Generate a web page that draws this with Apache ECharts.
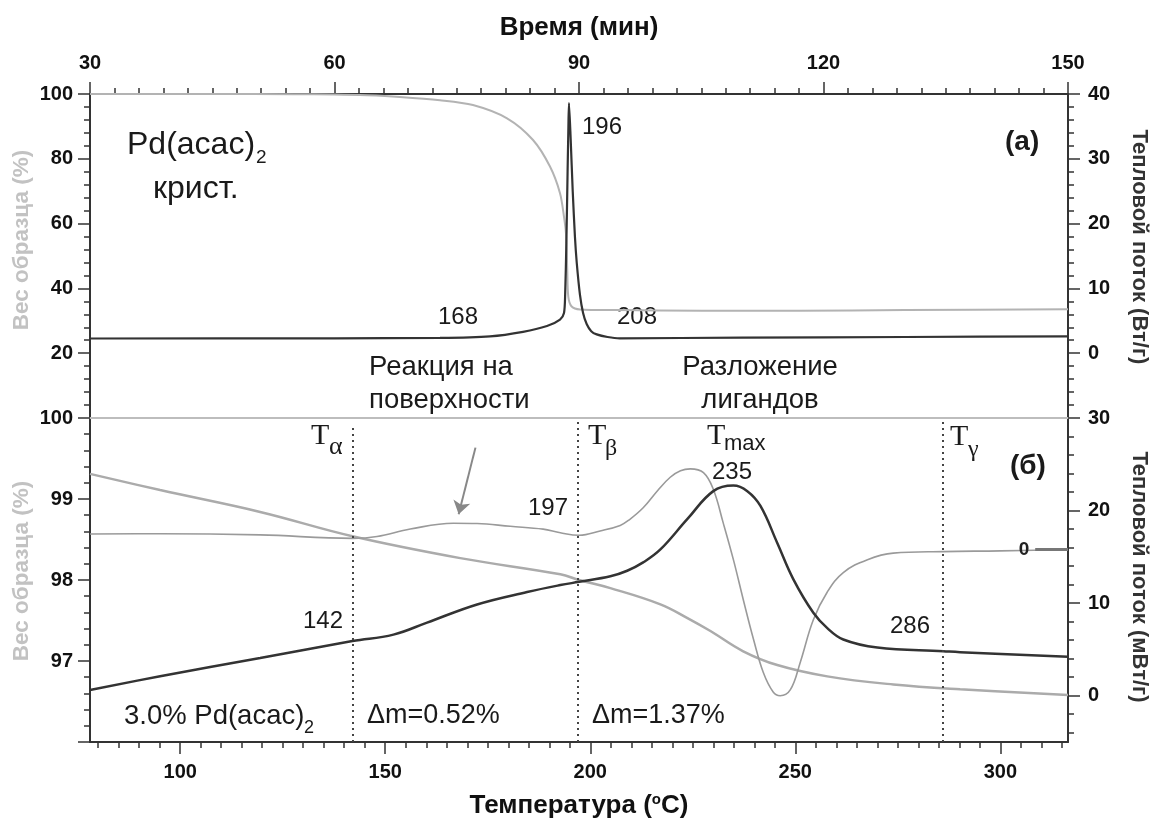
<!DOCTYPE html>
<html>
<head>
<meta charset="utf-8">
<title>Pd(acac)2 ТГ/ДСК</title>
<script src="https://cdn.jsdelivr.net/npm/echarts@6/dist/echarts.min.js"></script>
<style>
  html, body { margin: 0; padding: 0; background: #fff; }
  #main { width: 1154px; height: 821px; }
</style>
</head>
<body>
<div id="main"></div>
<script>
// (а) crystalline Pd(acac)2, plotted against time (min)
const timeWeightA = [30, 45, 55, 60, 64, 68, 72.94, 76.99, 81.17, 84.36, 86.44, 87.67, 88.16, 88.40, 88.56, 88.69, 89.10, 90.12, 94.66, 105, 117, 130, 150];
const weightA = [100, 100, 99.95, 99.85, 99.6, 99.1, 98.1, 96.6, 92.5, 85.8, 77.6, 69.4, 62.1, 57, 45.7, 37.4, 34.4, 33.5, 33.3, 33.1, 33.1, 33.3, 33.6];
const timeHeatA = [30, 60, 72.94, 79.08, 83.13, 86.07, 87.67, 88.16, 88.3, 88.45, 88.6, 88.7, 88.77, 88.98, 89.23, 89.5, 89.72, 90.12, 90.5, 90.94, 91.5, 92.17, 93.5, 95, 110, 130, 150];
const heatA = [2.27, 2.3, 2.36, 2.6, 3.3, 4.2, 5.2, 6.2, 9, 17, 28, 35, 38.6, 33, 25, 18, 14, 9, 6.2, 4.5, 3.4, 2.9, 2.5, 2.3, 2.4, 2.5, 2.6];

// (б) 3.0% Pd(acac)2, plotted against temperature (°C)
const tempWeightB = [78, 95.1, 119.5, 142, 168.3, 192.7, 197.3, 204.9, 217.1, 223.7, 229.3, 237.3, 245.6, 257.8, 273.9, 290.2, 316.5];
const weightB = [99.31, 99.11, 98.84, 98.54, 98.27, 98.07, 98.0, 97.9, 97.7, 97.53, 97.37, 97.12, 96.95, 96.81, 96.71, 96.65, 96.58];
const tempDtgB = [78, 95.1, 119.5, 142, 148, 156.1, 166.6, 172.4, 180.5, 188.5, 192.7, 197.3, 202.4, 207.3, 209.5, 212.9, 216.5, 219.5, 222, 224.4, 227.6, 230.0, 232.4, 234.9, 237.3, 239.8, 242.2, 244.6, 246.3, 248.8, 251.2, 254.4, 257.8, 261.7, 267.6, 273.9, 286.1, 300, 316.5];
const dtgB = [17.47, 17.5, 17.37, 17.0, 17.2, 18.0, 18.63, 18.6, 18.3, 18.0, 17.6, 17.33, 17.8, 18.4, 19.0, 20.3, 22.2, 23.6, 24.3, 24.5, 24.1, 22.3, 18.7, 14.7, 10.4, 6.1, 2.5, 0.4, 0, 0.65, 3.6, 8.2, 11.2, 13.3, 14.7, 15.4, 15.57, 15.65, 15.8];
const tempDscB = [78, 95.1, 119.5, 142, 152, 160.2, 172.4, 184.6, 192.7, 197.3, 204.9, 209, 212.9, 217.1, 223.7, 230, 234.9, 238.3, 241.5, 245.6, 249.5, 254.4, 257.8, 261.7, 270, 286.1, 290.2, 316.5];
const dscB = [0.62, 2.1, 4.08, 5.9, 6.6, 7.9, 9.86, 11.2, 11.95, 12.3, 12.9, 13.5, 14.4, 15.8, 19.1, 22.1, 22.7, 22.1, 20.5, 16.5, 12.6, 8.96, 7.3, 6.07, 5.2, 4.8, 4.7, 4.2];

// markers
const markTemps = [142, 197, 286];
const arrowFrom = [172, 26.8];
const arrowTo = [167.9, 19.6];
const zeroMark = [308.5, 316.5, 15.8];

// tick values
const tempLabels = [100, 150, 200, 250, 300];
const tempMinor = [80, 85, 90, 95, 105, 110, 115, 120, 125, 130, 135, 140, 145, 155, 160, 165, 170, 175, 180, 185, 190, 195, 205, 210, 215, 220, 225, 230, 235, 240, 245, 255, 260, 265, 270, 275, 280, 285, 290, 295, 305, 310, 315];
const heatBLabels = [0, 10, 20, 30];
const heatBMinor = [-4, -2, 2, 4, 6, 8, 12, 14, 16, 18, 22, 24, 26, 28];

function pairs(xs, ys) {
  return xs.map(function (x, i) { return [x, ys[i]]; });
}

const FONT = '"Liberation Sans", Arial, sans-serif';
const SERIF = '"Liberation Serif", "Times New Roman", serif';
const axisColor = '#333';
const tickLabel = { color: '#111', fontWeight: 'bold', fontSize: 20, fontFamily: FONT };
const nameStyle = { color: '#111', fontWeight: 'bold', fontSize: 26, fontFamily: FONT };

function label(x, y, text, size, opts) {
  opts = opts || {};
  return {
    type: 'text', x: x, y: y, silent: true,
    rotation: opts.rotation || 0,
    style: {
      text: text,
      fill: opts.color || '#1a1a1a',
      font: (opts.bold ? 'bold ' : '') + size + 'px ' + (opts.family || FONT),
      textAlign: opts.align || 'left',
      textVerticalAlign: 'middle'
    }
  };
}

const chart = echarts.init(document.getElementById('main'), null, { renderer: 'canvas' });

const option = {
  backgroundColor: '#fff',
  animation: false,
  grid: [
    { left: 90, right: 86, top: 94, height: 324, outerBoundsMode: 'none' },
    { left: 90, right: 86, top: 418, height: 324, outerBoundsMode: 'none' }
  ],
  xAxis: [
    {
      gridIndex: 0, type: 'value', position: 'top', min: 30, max: 150, interval: 30,
      axisLine: { onZero: false, lineStyle: { color: axisColor, width: 2 } },
      axisTick: { length: 12, lineStyle: { color: axisColor, width: 1.5 } },
      minorTick: { show: true, splitNumber: 10, length: 6, lineStyle: { color: axisColor, width: 1.5 } },
      axisLabel: Object.assign({ margin: 21 }, tickLabel),
      splitLine: { show: false },
      name: 'Время (мин)', nameLocation: 'middle', nameGap: 53,
      nameTextStyle: nameStyle
    },
    {
      gridIndex: 1, type: 'value', position: 'bottom', min: 78, max: 316.5,
      axisLine: { onZero: false, lineStyle: { color: axisColor, width: 2 } },
      axisTick: { customValues: tempLabels, length: 12, lineStyle: { color: axisColor, width: 1.5 } },
      axisLabel: Object.assign({ customValues: tempLabels, margin: 20 }, tickLabel),
      splitLine: { show: false },
      name: 'Температура ({sup|o}C)', nameLocation: 'middle', nameGap: 50,
      nameTextStyle: Object.assign({
        lineHeight: 28,
        rich: { sup: { fontSize: 15, fontWeight: 'bold', fontFamily: FONT, color: '#111', verticalAlign: 'top', lineHeight: 15 } }
      }, nameStyle)
    },
    {
      gridIndex: 1, type: 'value', position: 'bottom', min: 78, max: 316.5,
      axisLine: { show: false, onZero: false },
      axisTick: { customValues: tempMinor, length: 6, lineStyle: { color: axisColor, width: 1.5 } },
      axisLabel: { show: false },
      splitLine: { show: false }
    },
    {
      gridIndex: 1, type: 'value', position: 'top', min: 78, max: 316.5,
      axisLine: { onZero: false, lineStyle: { color: '#bdbdbd', width: 2 } },
      axisTick: { show: false }, axisLabel: { show: false }, splitLine: { show: false }
    }
  ],
  yAxis: [
    {
      gridIndex: 0, type: 'value', position: 'left', min: 0, max: 100, interval: 20,
      axisLine: { show: true, onZero: false, lineStyle: { color: axisColor, width: 2 } },
      axisTick: { show: true, length: 12, lineStyle: { color: axisColor, width: 1.5 } },
      minorTick: { show: true, splitNumber: 5, length: 6, lineStyle: { color: axisColor, width: 1.5 } },
      axisLabel: Object.assign({ margin: 17, showMinLabel: false }, tickLabel),
      splitLine: { show: false }
    },
    {
      gridIndex: 0, type: 'value', position: 'right', min: -10, max: 40, interval: 10,
      axisLine: { show: true, onZero: false, lineStyle: { color: axisColor, width: 2 } },
      axisTick: { show: true, length: 12, lineStyle: { color: axisColor, width: 1.5 } },
      minorTick: { show: true, splitNumber: 5, length: 6, lineStyle: { color: axisColor, width: 1.5 } },
      axisLabel: Object.assign({ margin: 20, showMinLabel: false }, tickLabel),
      splitLine: { show: false }
    },
    {
      gridIndex: 1, type: 'value', position: 'left', min: 96, max: 100, interval: 1,
      axisLine: { show: true, onZero: false, lineStyle: { color: axisColor, width: 2 } },
      axisTick: { show: true, length: 12, lineStyle: { color: axisColor, width: 1.5 } },
      minorTick: { show: true, splitNumber: 5, length: 6, lineStyle: { color: axisColor, width: 1.5 } },
      axisLabel: Object.assign({ margin: 17, showMinLabel: false }, tickLabel),
      splitLine: { show: false }
    },
    {
      gridIndex: 1, type: 'value', position: 'right', min: -5, max: 30,
      axisLine: { show: true, onZero: false, lineStyle: { color: axisColor, width: 2 } },
      axisTick: { show: true, customValues: heatBLabels, length: 12, lineStyle: { color: axisColor, width: 1.5 } },
      axisLabel: Object.assign({ customValues: heatBLabels, margin: 20 }, tickLabel),
      splitLine: { show: false }
    },
    {
      gridIndex: 1, type: 'value', position: 'right', min: -5, max: 30,
      axisLine: { show: false, onZero: false },
      axisTick: { show: true, customValues: heatBMinor, length: 6, lineStyle: { color: axisColor, width: 1.5 } },
      axisLabel: { show: false },
      splitLine: { show: false }
    }
  ],
  series: [
    {
      name: 'Вес (а)', type: 'line', xAxisIndex: 0, yAxisIndex: 0,
      data: pairs(timeWeightA, weightA), showSymbol: false, smooth: 0.3,
      lineStyle: { color: '#b3b3b3', width: 2 }, z: 2
    },
    {
      name: 'Тепловой поток (а)', type: 'line', xAxisIndex: 0, yAxisIndex: 1,
      data: pairs(timeHeatA, heatA), showSymbol: false, smooth: 0.25,
      lineStyle: { color: '#333', width: 2.2 }, z: 3
    },
    {
      name: 'Вес (б)', type: 'line', xAxisIndex: 1, yAxisIndex: 2,
      data: pairs(tempWeightB, weightB), showSymbol: false, smooth: 0.4,
      lineStyle: { color: '#ababab', width: 2.5 }, z: 2,
      markLine: {
        silent: true, symbol: ['none', 'none'], animation: false,
        label: { show: false },
        lineStyle: { color: '#444', type: [2, 4], width: 2 },
        data: markTemps.map(function (t, i) {
          return [{ coord: [t, 96] }, { coord: [t, i === 0 ? 99.91 : 99.96] }];
        })
      }
    },
    {
      name: 'ДТГ (б)', type: 'line', xAxisIndex: 1, yAxisIndex: 3,
      data: pairs(tempDtgB, dtgB), showSymbol: false, smooth: 0.4,
      lineStyle: { color: '#9a9a9a', width: 1.6 }, z: 2,
      markLine: {
        silent: true, animation: false,
        symbol: ['none', 'arrow'], symbolSize: 13,
        label: { show: false },
        lineStyle: { color: '#888', type: 'solid', width: 2 },
        data: [[{ coord: arrowFrom }, { coord: arrowTo }]]
      }
    },
    {
      name: 'ДСК (б)', type: 'line', xAxisIndex: 1, yAxisIndex: 3,
      data: pairs(tempDscB, dscB), showSymbol: false, smooth: 0.4,
      lineStyle: { color: '#333', width: 2.5 }, z: 3,
      markLine: {
        silent: true, animation: false, symbol: ['none', 'none'],
        lineStyle: { color: '#777', type: 'solid', width: 3 },
        label: {
          show: true, position: 'start', formatter: '0', distance: 6,
          color: '#222', fontWeight: 'bold', fontSize: 19, fontFamily: FONT
        },
        data: [[{ coord: [zeroMark[0], zeroMark[2]] }, { coord: [zeroMark[1], zeroMark[2]] }]]
      }
    }
  ],
  graphic: [
    // axis titles (vertical)
    label(22, 240, 'Вес образца (%)', 22.5, { bold: true, color: '#c2c2c2', align: 'center', rotation: Math.PI / 2 }),
    label(22, 571, 'Вес образца (%)', 22.5, { bold: true, color: '#c2c2c2', align: 'center', rotation: Math.PI / 2 }),
    label(1139, 247, 'Тепловой поток (Вт/г)', 22, { bold: true, color: '#333', align: 'center', rotation: -Math.PI / 2 }),
    label(1139, 577, 'Тепловой поток (мВт/г)', 22, { bold: true, color: '#333', align: 'center', rotation: -Math.PI / 2 }),
    // panel (а)
    label(127, 145, 'Pd(acac)', 32),
    label(256, 158, '2', 19),
    label(153, 189, 'крист.', 32),
    label(1005, 142, '(а)', 28, { bold: true }),
    label(582, 127, '196', 24),
    label(438, 317, '168', 24),
    label(617, 317, '208', 24),
    label(369, 367, 'Реакция на', 27.5),
    label(369, 400, 'поверхности', 27.5),
    label(760, 367, 'Разложение', 27.5, { align: 'center' }),
    label(760, 400, 'лигандов', 27.5, { align: 'center' }),
    // panel (б)
    label(311, 436, 'T', 30, { family: SERIF }),
    label(329, 447, 'α', 26, { family: SERIF }),
    label(588, 436, 'T', 30, { family: SERIF }),
    label(605, 449, 'β', 24, { family: SERIF }),
    label(707, 436, 'T', 30, { family: SERIF }),
    label(724, 444, 'max', 22),
    label(950, 437, 'T', 30, { family: SERIF }),
    label(968, 450, 'γ', 24, { family: SERIF }),
    label(712, 472, '235', 24),
    label(528, 508, '197', 24),
    label(303, 621, '142', 24),
    label(890, 626, '286', 24),
    label(1010, 466, '(б)', 28, { bold: true }),
    label(124, 716, '3.0% Pd(acac)', 27.5),
    label(304, 728, '2', 18),
    label(367, 716, 'Δm=0.52%', 27),
    label(592, 716, 'Δm=1.37%', 27)
  ]
};

chart.setOption(option);
</script>
</body>
</html>
